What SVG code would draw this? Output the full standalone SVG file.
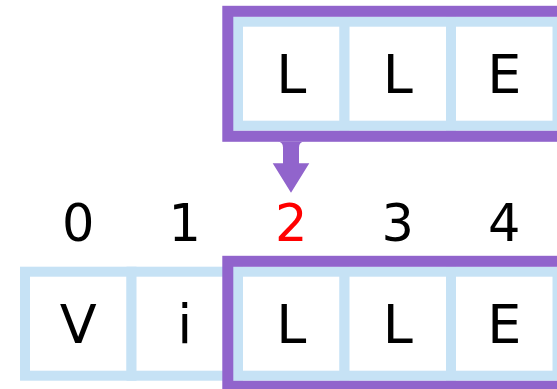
<svg xmlns="http://www.w3.org/2000/svg" width="557" height="389" viewBox="0 0 557 389">
  <style>
    .cell { fill: #ffffff; stroke: #c6e2f5; stroke-width: 10; }
    .box { fill: none; stroke: #9164cc; stroke-width: 11; }
    .ch { font-family: "DejaVu Sans", sans-serif; font-size: 54px; fill: #000000; text-anchor: middle; }
    .idx { font-family: "DejaVu Sans", sans-serif; font-size: 51px; fill: #000000; text-anchor: middle; }
    .hl { fill: #ff0000; }
  </style>
  <rect width="557" height="389" fill="#ffffff"/>

  <g id="top-cells">
    <g id="top-cell-0"><rect class="cell" x="238" y="21.7" width="106.5" height="104"/><text class="ch" x="291.25" y="93.3">L</text></g>
    <g id="top-cell-1"><rect class="cell" x="344.5" y="21.7" width="106.5" height="104"/><text class="ch" x="397.75" y="93.3">L</text></g>
    <g id="top-cell-2"><rect class="cell" x="451" y="21.7" width="106.5" height="104"/><text class="ch" x="504.25" y="93.3">E</text></g>
  </g>
  <g id="top-box"><rect class="box" x="227.8" y="11.3" width="400" height="125"/></g>

  <g id="connectors">
    <path d="M277.5,141.7 Q283,141.7 283,147.5 L283,163.3 L272.7,163.3 L291,192.7 L309.3,163.3 L299,163.3 L299,147.5 Q299,141.7 304.5,141.7 Z" fill="#9164cc"/>
  </g>

  <g id="indices">
    <text class="idx" x="78.25" y="241">0</text>
    <text class="idx" x="184.75" y="241">1</text>
    <text class="idx hl" x="291.25" y="241">2</text>
    <text class="idx" x="397.75" y="241">3</text>
    <text class="idx" x="504.25" y="241">4</text>
  </g>

  <g id="bottom-cells">
    <g id="cell-0"><rect class="cell" x="25" y="271.7" width="106.5" height="104"/><text class="ch" x="78.25" y="343.3">V</text></g>
    <g id="cell-1"><rect class="cell" x="131.5" y="271.7" width="106.5" height="104"/><text class="ch" x="184.75" y="343.3">i</text></g>
    <g id="cell-2"><rect class="cell" x="238" y="271.7" width="106.5" height="104"/><text class="ch" x="291.25" y="343.3">L</text></g>
    <g id="cell-3"><rect class="cell" x="344.5" y="271.7" width="106.5" height="104"/><text class="ch" x="397.75" y="343.3">L</text></g>
    <g id="cell-4"><rect class="cell" x="451" y="271.7" width="106.5" height="104"/><text class="ch" x="504.25" y="343.3">E</text></g>
  </g>
  <g id="bottom-box"><rect class="box" x="227.8" y="261.3" width="400" height="125"/></g>
</svg>
